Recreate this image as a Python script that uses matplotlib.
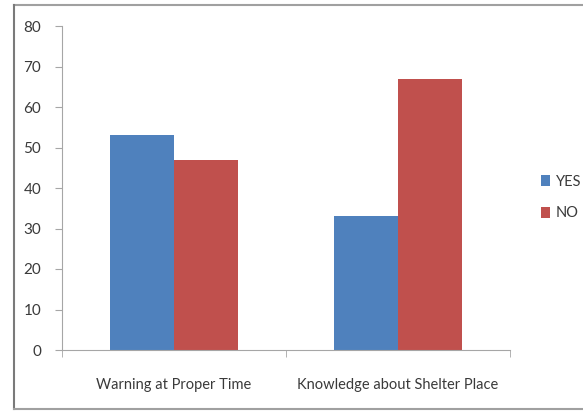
import numpy as np
import matplotlib
matplotlib.use('Agg')
import matplotlib.pyplot as plt
from matplotlib.lines import Line2D

plt.rcParams['font.family'] = ['Lato', 'DejaVu Sans']

categories = ['Warning at Proper Time', 'Knowledge about Shelter Place']
yes_vals = [53, 33]
no_vals = [47, 67]

fig = plt.figure(figsize=(5.83, 4.11), dpi=100)
ax = fig.add_axes([62/583, 1-350/411, 448/583, 324/411])

x = np.arange(len(categories))
w = 0.285
ax.bar(x - w/2, yes_vals, w, color='#4F81BD', label='YES')
ax.bar(x + w/2, no_vals, w, color='#C0504D', label='NO')

ax.set_xlim(-0.5, 1.5)
ax.set_ylim(0, 80)
ax.set_yticks(range(0, 81, 10))
ax.set_xticks(x)
ax.set_xticklabels(categories)
ax.set_xticks([-0.5, 0.5, 1.5], minor=True)

for s in ['top', 'right']:
    ax.spines[s].set_visible(False)
for s in ['left', 'bottom']:
    ax.spines[s].set_color('#a6a6a6')
ax.tick_params(axis='y', colors='#a6a6a6', labelcolor='#3a3a3a', labelsize=11, length=5, pad=10)
ax.tick_params(axis='x', which='major', length=0, labelcolor='#3a3a3a', labelsize=10.5, pad=20)
ax.tick_params(axis='x', which='minor', length=5, color='#a6a6a6')

leg = ax.legend(loc='center left', bbox_to_anchor=(466/448, 0.47), frameon=False,
                handlelength=0.6, handleheight=0.8, handletextpad=0.4, labelspacing=1.2,
                fontsize=10.5)
for t in leg.get_texts():
    t.set_color('#3a3a3a')

# outer chart border (top, left, bottom)
W, H = 583, 411
fig.lines.append(Line2D([14/W, 1], [1-5/H, 1-5/H], transform=fig.transFigure, color='#a0a0a0', lw=1.5))
fig.lines.append(Line2D([14/W, 14/W], [1-5/H, 1-409/H], transform=fig.transFigure, color='#7a7a7a', lw=1.5))
fig.lines.append(Line2D([14/W, 1], [1-409/H, 1-409/H], transform=fig.transFigure, color='#a0a0a0', lw=1.5))

fig.savefig('out.png', dpi=100)
